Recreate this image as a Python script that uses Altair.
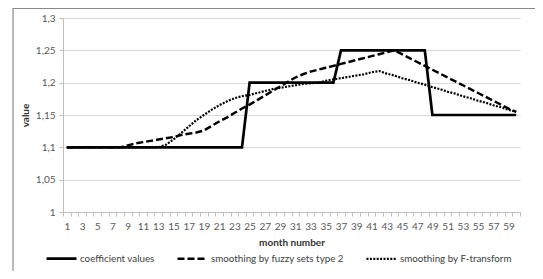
import altair as alt
import pandas as pd

months = list(range(1, 61))

coefficient_values = [
    1.1, 1.1, 1.1, 1.1, 1.1, 1.1, 1.1, 1.1, 1.1, 1.1, 1.1, 1.1,
    1.1, 1.1, 1.1, 1.1, 1.1, 1.1, 1.1, 1.1, 1.1, 1.1, 1.1, 1.1,
    1.2, 1.2, 1.2, 1.2, 1.2, 1.2, 1.2, 1.2, 1.2, 1.2, 1.2, 1.2,
    1.25, 1.25, 1.25, 1.25, 1.25, 1.25, 1.25, 1.25, 1.25, 1.25, 1.25, 1.25,
    1.15, 1.15, 1.15, 1.15, 1.15, 1.15, 1.15, 1.15, 1.15, 1.15, 1.15, 1.15,
]

fuzzy_type2 = [
    1.100, 1.100, 1.100, 1.100, 1.100, 1.100, 1.100, 1.100, 1.103, 1.106,
    1.108, 1.110, 1.112, 1.114, 1.116, 1.119, 1.121, 1.123, 1.126, 1.133,
    1.140, 1.146, 1.153, 1.160, 1.166, 1.173, 1.180, 1.187, 1.194, 1.201,
    1.208, 1.213, 1.217, 1.220, 1.223, 1.226, 1.229, 1.232, 1.235, 1.238,
    1.241, 1.244, 1.247, 1.250, 1.244, 1.238, 1.232, 1.226, 1.220, 1.214,
    1.208, 1.202, 1.196, 1.190, 1.184, 1.178, 1.172, 1.166, 1.160, 1.155,
]

f_transform = [
    1.100, 1.100, 1.100, 1.100, 1.100, 1.100, 1.100, 1.100, 1.100, 1.100,
    1.100, 1.100, 1.100, 1.104, 1.112, 1.122, 1.132, 1.142, 1.150, 1.158,
    1.165, 1.171, 1.176, 1.179, 1.181, 1.184, 1.187, 1.190, 1.192, 1.194,
    1.196, 1.198, 1.199, 1.200, 1.203, 1.205, 1.207, 1.209, 1.211, 1.213,
    1.216, 1.218, 1.214, 1.211, 1.207, 1.204, 1.200, 1.197, 1.193, 1.190,
    1.186, 1.183, 1.179, 1.176, 1.172, 1.169, 1.165, 1.162, 1.158, 1.155,
]

series_names = [
    "coefficient values",
    "smoothing by fuzzy sets type 2",
    "smoothing by F-transform",
]
y_ticks = [1.0, 1.05, 1.1, 1.15, 1.2, 1.25, 1.3]

rows = []
for name, vals in zip(series_names, [coefficient_values, fuzzy_type2, f_transform]):
    for m, v in zip(months, vals):
        rows.append({"month": m, "value": v, "series": name})
df = pd.DataFrame(rows)

x_tick_values = [m - 0.5 for m in months] + [months[-1] + 0.5]

FONT = "Lato"
W, H = 457, 194

x_enc = alt.X(
    "month:Q",
    scale=alt.Scale(domain=[0.5, 60.5], nice=False, zero=False),
    axis=alt.Axis(
        values=x_tick_values,
        labelExpr="(datum.value % 2 == 0.5 && datum.value < 60) ? format(datum.value + 0.5, 'd') : ''",
        labelOffset=W / 60 / 2,
        labelOverlap=False,
        labelBound=False,
        labelFlush=False,
        tickSize=4,
        labelPadding=5,
        grid=False,
        title="month number",
        titlePadding=6,
    ),
)
y_enc = alt.Y(
    "value:Q",
    scale=alt.Scale(domain=[1.0, 1.3], nice=False, zero=False),
    axis=alt.Axis(
        values=y_ticks,
        labelExpr="replace(format(datum.value, '.2~f'), '.', ',')",
        tickSize=4,
        labelPadding=4,
        grid=True,
        title="value",
        titlePadding=5,
    ),
)

lines = alt.Chart(df).mark_line(color="black", clip=False).encode(
    x=x_enc,
    y=y_enc,
    strokeDash=alt.StrokeDash(
        "series:N",
        scale=alt.Scale(domain=series_names, range=[[1, 0], [7, 3], [2, 1.4]]),
        legend=alt.Legend(title=None),
    ),
    strokeWidth=alt.StrokeWidth(
        "series:N",
        scale=alt.Scale(domain=series_names, range=[2.7, 2.2, 2.2]),
        legend=alt.Legend(title=None),
    ),
    detail="series:N",
)

frame = pd.DataFrame({"edge": ["frame"]})
border_top = alt.Chart(frame).mark_rule(
    color="#8a8a8a", strokeWidth=1.2, clip=False
).encode(x=alt.value(-50), x2=alt.value(600), y=alt.value(-9.5))
border_left = alt.Chart(frame).mark_rule(
    color="#8a8a8a", strokeWidth=1.2, clip=False
).encode(x=alt.value(-50), y=alt.value(-10), y2=alt.value(400))

chart = (
    alt.layer(lines, border_top, border_left)
    .properties(
        width=W,
        height=H,
        padding={"left": 55, "top": 10, "right": 15, "bottom": 59},
        autosize=alt.AutoSizeParams(type="none"),
    )
    .configure(font=FONT)
    .configure_view(stroke=None)
    .configure_axis(
        domainColor="#bfbfbf",
        tickColor="#bfbfbf",
        gridColor="#d9d9d9",
        labelColor="#595959",
        labelFontSize=10,
        labelFont=FONT,
        titleFont=FONT,
        titleFontSize=10,
        titleFontWeight="bold",
        titleColor="#333333",
    )
    .configure_legend(
        orient="none",
        legendX=-18,
        legendY=224,
        direction="horizontal",
        symbolType="stroke",
        symbolSize=900,
        symbolStrokeColor="black",
        labelFontSize=9.8,
        labelFont=FONT,
        labelColor="#404040",
        labelOffset=2,
        columnPadding=17,
    )
)

chart.save("out.html", embed_options={"renderer": "svg", "actions": False})
